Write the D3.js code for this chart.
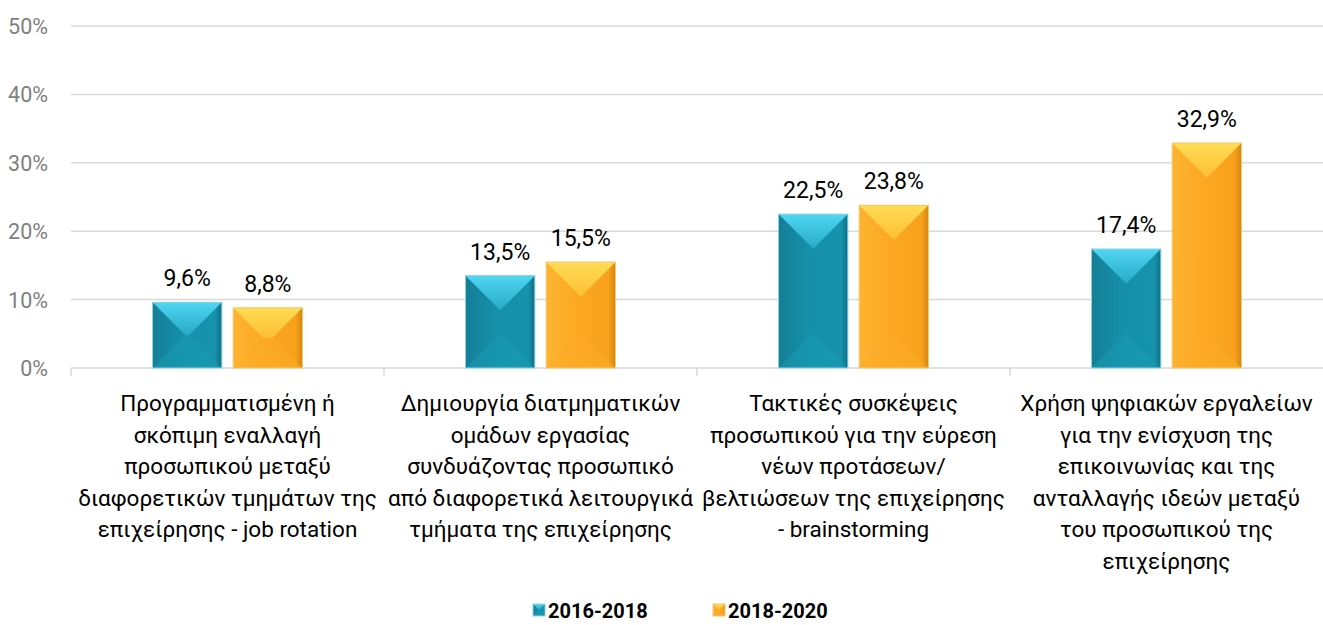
<!DOCTYPE html>
<html>
<head>
<meta charset="utf-8">
<script src="https://cdn.jsdelivr.net/npm/d3@7"></script>
<style>
  body { margin: 0; background: #fff; }
  text { font-family: Roboto, "Open Sans", sans-serif; }
</style>
</head>
<body>
<div id="chart"></div>
<script>
// data
const categories = [
  ["Προγραμματισμένη ή", "σκόπιμη εναλλαγή", "προσωπικού μεταξύ", "διαφορετικών τμημάτων της", "επιχείρησης - job rotation"],
  ["Δημιουργία διατμηματικών", "ομάδων εργασίας", "συνδυάζοντας προσωπικό", "από διαφορετικά λειτουργικά", "τμήματα της επιχείρησης"],
  ["Τακτικές συσκέψεις", "προσωπικού για την εύρεση", "νέων προτάσεων/", "βελτιώσεων της επιχείρησης", "- brainstorming"],
  ["Χρήση ψηφιακών εργαλείων", "για την ενίσχυση της", "επικοινωνίας και της", "ανταλλαγής ιδεών μεταξύ", "του προσωπικού της", "επιχείρησης"]
];
const seriesNames = ["2016-2018", "2018-2020"];
const values2016 = [9.6, 13.5, 22.5, 17.4];
const values2018 = [8.8, 15.5, 23.8, 32.9];
const yTicks = [0, 10, 20, 30, 40, 50];

const width = 1323, height = 625;
const margin = {top: 26, left: 71, right: 0, bottom: 257};

const svg = d3.select("#chart").append("svg")
  .attr("width", width).attr("height", height);

const defs = svg.append("defs");

const palettes = [
  {main: "#1690aa", left: "#147f97", right: "#1793ad", top0: "#4fd6f2", top1: "#27aac6", bottom: "#1a9ab4", edge: "#0f6f85", stroke: "#8fd3e2"},
  {main: "#fca822", left: "#fdb431", right: "#f7a11c", top0: "#ffdc55", top1: "#fdbf35", bottom: "#fbac28", edge: "#d4860f", stroke: "#f3c878"}
];
palettes.forEach((p, i) => {
  const g = defs.append("linearGradient").attr("id", "top" + i)
    .attr("x1", 0).attr("y1", 0).attr("x2", 0).attr("y2", 1);
  g.append("stop").attr("offset", "0%").attr("stop-color", p.top0);
  g.append("stop").attr("offset", "100%").attr("stop-color", p.top1);
  const h = defs.append("linearGradient").attr("id", "side" + i)
    .attr("x1", 0).attr("y1", 0).attr("x2", 1).attr("y2", 0);
  h.append("stop").attr("offset", "0%").attr("stop-color", p.left);
  h.append("stop").attr("offset", "45%").attr("stop-color", p.main);
  h.append("stop").attr("offset", "90%").attr("stop-color", p.right);
  h.append("stop").attr("offset", "100%").attr("stop-color", p.edge);
});

const x0 = d3.scaleBand().domain(d3.range(categories.length))
  .range([margin.left, width - margin.right]);
const x1 = d3.scaleBand().domain(d3.range(seriesNames.length))
  .range([81.5, 231.5]).paddingInner(0.14);
const y = d3.scaleLinear().domain([0, 50])
  .range([height - margin.bottom, margin.top]);

// gridlines
svg.append("g").selectAll("line").data(yTicks.slice(1)).join("line")
  .attr("x1", margin.left).attr("x2", width)
  .attr("y1", d => y(d)).attr("y2", d => y(d))
  .attr("stroke", "#d9d9d9").attr("stroke-width", 1.5);

// y labels
svg.append("g").selectAll("text").data(yTicks).join("text")
  .attr("x", 48).attr("y", d => y(d) + 8)
  .attr("text-anchor", "end")
  .attr("font-size", 21.5).attr("fill", "#7f7f7f")
  .text(d => d + "%");

// x axis
svg.append("line")
  .attr("x1", margin.left).attr("x2", width)
  .attr("y1", y(0)).attr("y2", y(0))
  .attr("stroke", "#d9d9d9").attr("stroke-width", 1.5);
svg.append("g").selectAll("line").data(d3.range(categories.length)).join("line")
  .attr("x1", d => x0(d)).attr("x2", d => x0(d))
  .attr("y1", y(0)).attr("y2", y(0) + 8)
  .attr("stroke", "#d9d9d9").attr("stroke-width", 1.5);

function bevelBar(g, x, yTop, w, h, pi) {
  const p = palettes[pi];
  const d = Math.min(w / 2, h / 2, 35);
  const xl = x, xr = x + w, yt = yTop, yb = yTop + h;
  g.append("rect").attr("x", xl).attr("y", yt).attr("width", w).attr("height", h)
    .attr("fill", `url(#side${pi})`);
  // bottom face
  g.append("path")
    .attr("d", `M${xl},${yb}L${xr},${yb}L${xr - d},${yb - d}L${xl + d},${yb - d}Z`)
    .attr("fill", p.bottom).attr("opacity", 0.55);
  // top face
  g.append("path")
    .attr("d", `M${xl},${yt}L${xr},${yt}L${xr - d},${yt + d}L${xl + d},${yt + d}Z`)
    .attr("fill", `url(#top${pi})`);
  g.append("rect").attr("x", xl).attr("y", yt).attr("width", w).attr("height", h)
    .attr("fill", "none").attr("stroke", p.stroke).attr("stroke-width", 1);
}

const vals = [values2016, values2018];
const fmt = v => String(v.toFixed(1)).replace(".", ",") + "%";

const bars = svg.append("g");
categories.forEach((c, ci) => {
  vals.forEach((arr, si) => {
    const v = arr[ci];
    const bx = x0(ci) + x1(si);
    bevelBar(bars, bx, y(v), x1.bandwidth(), y(0) - y(v), si);
    bars.append("text")
      .attr("x", bx + x1.bandwidth() / 2).attr("y", y(v) - 16)
      .attr("text-anchor", "middle").attr("font-size", 23).attr("fill", "#000")
      .text(fmt(v));
  });
});

// category labels
const lab = svg.append("g");
categories.forEach((lines, ci) => {
  const t = lab.append("text")
    .attr("x", x0(ci) + x0.bandwidth() / 2)
    .attr("text-anchor", "middle").attr("font-size", 22.5).attr("fill", "#000");
  lines.forEach((l, li) => {
    t.append("tspan").attr("x", x0(ci) + x0.bandwidth() / 2)
      .attr("y", 411 + li * 31.5).text(l);
  });
});

// legend
const legendX = [533, 713];
const leg = svg.append("g");
seriesNames.forEach((s, i) => {
  bevelBar(leg, legendX[i], 604, 12, 12, i);
  leg.append("text").attr("x", legendX[i] + 15).attr("y", 618)
    .attr("font-size", 20).attr("font-weight", "bold").attr("fill", "#000")
    .text(s);
});
</script>
</body>
</html>
